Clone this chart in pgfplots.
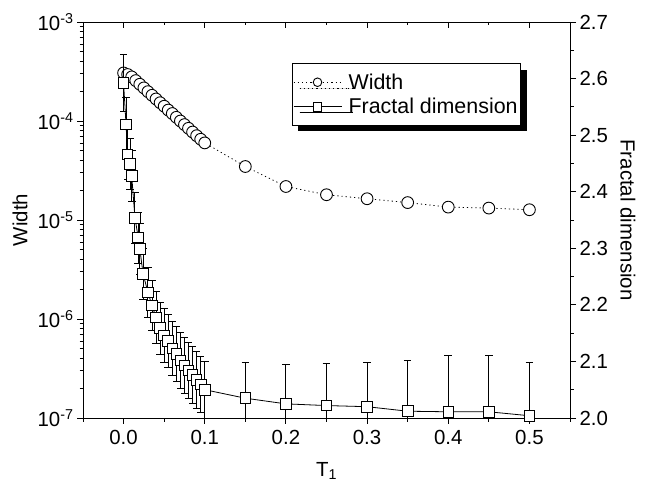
\documentclass[border=0pt]{standalone}
\usepackage{fontspec}
\setmainfont{Liberation Sans}
\usepackage{pgfplots}
\usepackage{pgfplotstable}
\pgfplotsset{compat=1.18}
\usetikzlibrary{shadows,calc}

\pgfplotstableread{
x y
0 3.06e-4
0.005 2.95e-4
0.01 2.79e-4
0.015 2.56e-4
0.02 2.35e-4
0.025 2.16e-4
0.03 1.98e-4
0.035 1.82e-4
0.04 1.67e-4
0.045 1.53e-4
0.05 1.41e-4
0.055 1.29e-4
0.06 1.19e-4
0.065 1.09e-4
0.07 1.00e-4
0.075 9.20e-5
0.08 8.44e-5
0.085 7.74e-5
0.09 7.11e-5
0.095 6.54e-5
0.1 6.01e-5
0.15 3.47e-5
0.2 2.18e-5
0.25 1.80e-5
0.3 1.64e-5
0.35 1.50e-5
0.4 1.35e-5
0.45 1.32e-5
0.5 1.27e-5
}\widthdata

\pgfplotstableread{
x y e
0 2.592 0.050
0.003 2.519 0.048
0.005 2.466 0.045
0.008 2.449 0.045
0.01 2.428 0.045
0.014 2.354 0.045
0.018 2.319 0.045
0.02 2.299 0.045
0.024 2.255 0.045
0.03 2.222 0.045
0.035 2.199 0.045
0.04 2.178 0.046
0.045 2.159 0.046
0.05 2.146 0.047
0.055 2.136 0.047
0.06 2.123 0.048
0.065 2.113 0.048
0.07 2.102 0.049
0.075 2.093 0.049
0.08 2.084 0.050
0.085 2.076 0.050
0.09 2.067 0.050
0.095 2.059 0.050
0.1 2.050 0.050
0.15 2.035 0.064
0.2 2.025 0.070
0.25 2.022 0.075
0.3 2.020 0.079
0.35 2.012 0.089
0.4 2.011 0.099
0.45 2.011 0.099
0.5 2.004 0.095
}\fracdata

\begin{document}
\begin{tikzpicture}
\pgfplotsset{
  every axis/.append style={
    scale only axis, width=487bp, height=396bp,
    xmin=-0.05, xmax=0.55,
    font=\fontsize{20.5}{24}\selectfont,
    axis line style={line width=0.9bp},
    major tick length=6bp, minor tick length=3.5bp,
    every tick/.style={black, line width=0.9bp},
    every minor tick/.style={black, line width=0.9bp},
  },
}
% left log axis + bottom x axis
\begin{axis}[name=ax,
  ymode=log, ymin=1e-7, ymax=1e-3,
  axis x line*=bottom, axis y line*=left,
  tick align=outside,
  xtick={0,0.1,0.2,0.3,0.4,0.5},
  xticklabels={0.0,0.1,0.2,0.3,0.4,0.5},
  xticklabel style={yshift=-3bp},
  minor xtick={-0.05,0.05,0.15,0.25,0.35,0.45,0.55},
  ytick={1e-7,1e-6,1e-5,1e-4,1e-3},
  yticklabels={10\textsuperscript{-7},10\textsuperscript{-6},10\textsuperscript{-5},10\textsuperscript{-4},10\textsuperscript{-3}},
  minor ytick={2e-7,3e-7,4e-7,5e-7,6e-7,7e-7,8e-7,9e-7,
               2e-6,3e-6,4e-6,5e-6,6e-6,7e-6,8e-6,9e-6,
               2e-5,3e-5,4e-5,5e-5,6e-5,7e-5,8e-5,9e-5,
               2e-4,3e-4,4e-4,5e-4,6e-4,7e-4,8e-4,9e-4},
  xlabel={T\textsubscript{1}}, ylabel={Width},
  every axis y label/.style={at={(axis description cs:-0.129,0.5)}, rotate=90, anchor=center},
  every axis x label/.style={at={(axis description cs:0.5,-0.1475)}, anchor=base},
]
\addplot[black, line width=0.8bp, dash pattern=on 1.2bp off 3bp,
  mark=*, mark size=5.9bp, mark options={solid, fill=white, draw=black, line width=0.9bp}]
  table[x=x,y=y] {\widthdata};
\end{axis}

% right linear axis
\begin{axis}[
  ymin=2.0, ymax=2.7,
  axis x line=none, axis y line*=right,
  tick align=outside,
  ytick={2.0,2.1,2.2,2.3,2.4,2.5,2.6,2.7},
  yticklabels={2.0,2.1,2.2,2.3,2.4,2.5,2.6,2.7},
  minor ytick={2.05,2.15,2.25,2.35,2.45,2.55,2.65},
  ylabel={Fractal dimension},
  every axis y label/.style={at={(axis description cs:1.119,0.5)}, rotate=-90, anchor=center},
  legend style={at={(0.4285,0.8957)}, anchor=north west, draw=black, line width=0.9bp,
    fill=white, font=\fontsize{21.5}{26}\selectfont,
    drop shadow={shadow xshift=6bp, shadow yshift=-6bp, fill=black, opacity=1},
    inner xsep=1bp, inner ysep=8bp, row sep=3.5bp},
  legend cell align=left,
  legend image code/.code={\draw[mark repeat=2, mark phase=2, #1] plot coordinates {(1bp,0bp) (25bp,0bp) (49bp,0bp)};
    \draw[draw=white, opacity=0, line width=0.1bp] (49bp,0bp) -- (54bp,0bp);},
  legend image post style={mark size=4.3bp},
]
\addlegendimage{black, line width=0.8bp, dash pattern=on 1.2bp off 3bp,
  mark=*, mark options={solid, fill=white, draw=black, line width=0.9bp}}
\addlegendentry{Width}
\addplot[black, line width=0.8bp,
  mark=square*, mark size=5.3bp, mark options={solid, fill=white, draw=black, line width=0.9bp},
  error bars/.cd, y dir=both, y explicit,
  error bar style={line width=0.9bp, black},
  error mark options={rotate=90, mark size=3.8bp, line width=0.9bp, black}]
  table[x=x, y=y, y error=e] {\fracdata};
\addlegendentry{Fractal dimension}
\end{axis}

% top axis with inward ticks
\begin{axis}[
  ymin=0, ymax=1,
  axis x line*=top, axis y line=none,
  tick align=inside,
  xtick={0,0.1,0.2,0.3,0.4,0.5}, xticklabels={},
  minor xtick={-0.05,0.05,0.15,0.25,0.35,0.45,0.55},
]
\addplot[draw=none] coordinates {(0,0)};
\end{axis}

\pgfresetboundingbox
\path[use as bounding box] ($(ax.south west)+(-83bp,-68.7bp)$) rectangle ($(ax.north east)+(82bp,22bp)$);
\end{tikzpicture}
\end{document}
